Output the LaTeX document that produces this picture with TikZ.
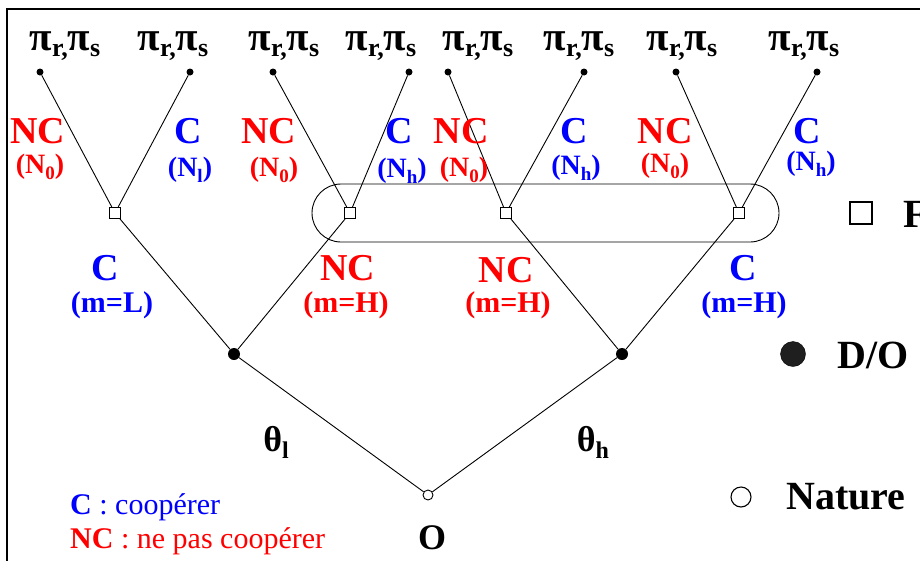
\documentclass[tikz,border=0pt]{standalone}
\usepackage{fontspec}
\setmainfont{Liberation Serif}
\definecolor{cred}{RGB}{255,0,0}
\definecolor{cblue}{RGB}{0,0,255}
\newcommand\fs[1]{\fontsize{#1}{#1}\selectfont}
\newcommand\Nsub[1]{(N\raisebox{-6pt}{\fs{19}#1})}
\tikzset{
  edge/.style={line width=0.9pt},
  leaf/.style={circle,fill=black,inner sep=0pt,minimum size=7pt},
  sq/.style={rectangle,draw,fill=white,line width=0.9pt,inner sep=0pt,minimum size=11pt},
  dnode/.style={circle,fill=black,inner sep=0pt,minimum size=12pt},
  nat/.style={circle,draw,fill=white,line width=0.9pt,inner sep=0pt,minimum size=10pt},
  pay/.style={inner sep=0pt,font=\fs{41}\bfseries},
  bigr/.style={inner sep=0pt,text=cred,font=\fs{38}\bfseries},
  bigb/.style={inner sep=0pt,text=cblue,font=\fs{38}\bfseries},
  smr/.style={inner sep=0pt,text=cred,font=\fs{28}\bfseries},
  smb/.style={inner sep=0pt,text=cblue,font=\fs{28}\bfseries},
  mr/.style={inner sep=0pt,text=cred,font=\fs{30}\bfseries},
  mb/.style={inner sep=0pt,text=cblue,font=\fs{30}\bfseries},
  blk/.style={inner sep=0pt,font=\fs{36}\bfseries},
  leg/.style={inner sep=0pt,anchor=west,font=\fs{30}},
  legr/.style={inner sep=0pt,anchor=west,font=\fs{40}\bfseries}
}
\begin{document}
\begin{tikzpicture}[x=1pt,y=-1pt]
\useasboundingbox (0,0) rectangle (920,560);
\fill[white] (0,0) rectangle (920,560);
% frame
\draw[line width=2.5pt] (7,620) -- (7,9) -- (980,9);
% grouping (information set)
\draw[line width=0.9pt,rounded corners=29pt] (312,184) rectangle (779,242);
% leaves
\foreach \i/\x in {1/40,2/190,3/273,4/409,5/448,6/584,7/676,8/817}
  \node[leaf] (l\i) at (\x,72) {};
% payoff labels
\foreach \i/\x in {1/65,2/173,3/284,4/381,5/478,6/579,7/682,8/804}
  \node[pay] (p\i) at (\x,46) {π\raisebox{-6pt}{\fs{26}r,}π\raisebox{-6pt}{\fs{26}s}};
% second level squares
\node[sq] (s1) at (115,213) {};
\node[sq] (s2) at (350,213) {};
\node[sq] (s3) at (506,213) {};
\node[sq] (s4) at (739,213) {};
% D/O nodes
\node[dnode] (d1) at (234,354) {};
\node[dnode] (d2) at (622,354) {};
% nature
\node[nat] (n0) at (428,495) {};
% edges
\draw[edge] (l1) -- (s1); \draw[edge] (l2) -- (s1);
\draw[edge] (l3) -- (s2); \draw[edge] (l4) -- (s2);
\draw[edge] (l5) -- (s3); \draw[edge] (l6) -- (s3);
\draw[edge] (l7) -- (s4); \draw[edge] (l8) -- (s4);
\draw[edge] (s1) -- (d1); \draw[edge] (s2) -- (d1);
\draw[edge] (s3) -- (d2); \draw[edge] (s4) -- (d2);
\draw[edge] (d1) -- (n0); \draw[edge] (d2) -- (n0);
% top edge labels
\node[bigr] (a1) at (38,131) {NC};   \node[smr] (b1) at (40,167) {\Nsub{0}};
\node[bigb] (a2) at (188,131) {C};   \node[smb] (b2) at (190,170) {\Nsub{l}};
\node[bigr] (a3) at (269,131) {NC};  \node[smr] (b3) at (274,170) {\Nsub{0}};
\node[bigb] (a4) at (399,131) {C};   \node[smb] (b4) at (402,171) {\Nsub{h}};
\node[bigr] (a5) at (461,131) {NC};  \node[smr] (b5) at (464,170) {\Nsub{0}};
\node[bigb] (a6) at (574,131) {C};   \node[smb] (b6) at (576,168) {\Nsub{h}};
\node[bigr] (a7) at (665,131) {NC};  \node[smr] (b7) at (665,166) {\Nsub{0}};
\node[bigb] (a8) at (807,131) {C};   \node[smb] (b8) at (811,164) {\Nsub{h}};
% second level labels
\node[bigb] (c1) at (105,268) {C};   \node[mb] (e1) at (112,305) {(m=L)};
\node[bigr] (c2) at (348,268) {NC};  \node[mr] (e2) at (346,305) {(m=H)};
\node[bigr] (c3) at (506,270) {NC};  \node[mr] (e3) at (508,305) {(m=H)};
\node[bigb] (c4) at (743,268) {C};   \node[mb] (e4) at (744,305) {(m=H)};
% nature labels
\node[blk] (tl) at (276,442) {θ\raisebox{-7pt}{\fs{24}l}};
\node[blk] (th) at (593,442) {θ\raisebox{-7pt}{\fs{24}h}};
\node[blk] (o) at (432,538) {O};
% bottom-left legend
\node[leg,text=cblue] (lg1) at (70,507) {\textbf{C} : coopérer};
\node[leg,text=cred] (lg2) at (70,541) {\textbf{NC} : ne pas coopérer};
% right legend
\node[sq,minimum size=22pt,line width=1.2pt] (ks) at (861,213) {};
\node[legr] (kst) at (903,214) {F};
\node[circle,draw,fill=black!88,inner sep=0pt,minimum size=25pt] (kd) at (793,354) {};
\node[legr] (kdt) at (837,355) {D/O};
\node[nat,minimum size=20pt,line width=1.1pt] (kn) at (741,497) {};
\node[legr] (knt) at (786,497) {Nature};
\end{tikzpicture}
\end{document}
